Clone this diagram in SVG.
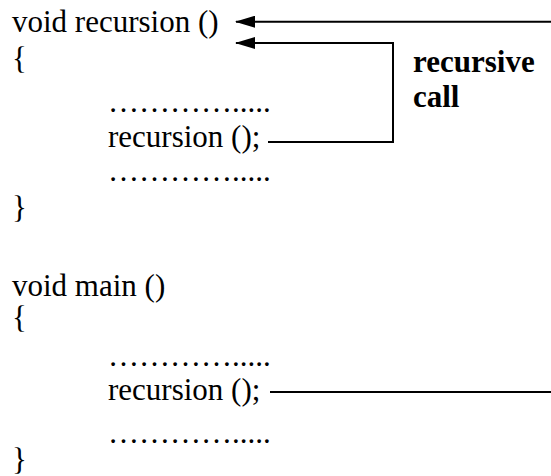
<svg xmlns="http://www.w3.org/2000/svg" width="551" height="476" viewBox="0 0 551 476">
<style>
text{font-family:"Liberation Serif","Times New Roman",serif;font-size:31px;fill:#000}
.b{font-weight:bold}
.c{fill:none;stroke:#000;stroke-width:2}
</style>
<defs>
<marker id="ah" markerUnits="userSpaceOnUse" markerWidth="20" markerHeight="12" refX="19" refY="6" orient="auto">
<path d="M0,0 L20,6 L0,12 z" fill="#000"/>
</marker>
</defs>
<rect width="551" height="476" fill="#fff"/>
<g id="recursion-func">
<text x="12" y="32">void recursion ()</text>
<text x="12" y="69">{</text>
<text x="108" y="112">………….....</text>
<text x="108" y="147">recursion ();</text>
<text x="108" y="181">………….....</text>
<text x="12" y="218">}</text>
</g>
<g id="main-func">
<text x="12" y="296">void main ()</text>
<text x="12" y="328">{</text>
<text x="108" y="366">………….....</text>
<text x="108" y="400">recursion ();</text>
<text x="108" y="443">………….....</text>
<text x="12" y="470">}</text>
</g>
<g id="label">
<text class="b" x="413" y="72">recursive</text>
<text class="b" x="413" y="107">call</text>
</g>
<g id="connectors">
<path class="c" d="M551,21.7 H236" marker-end="url(#ah)"/>
<path class="c" d="M268,142 H393 V43 H236" marker-end="url(#ah)"/>
<path class="c" d="M270,392 H551"/>
</g>
</svg>
